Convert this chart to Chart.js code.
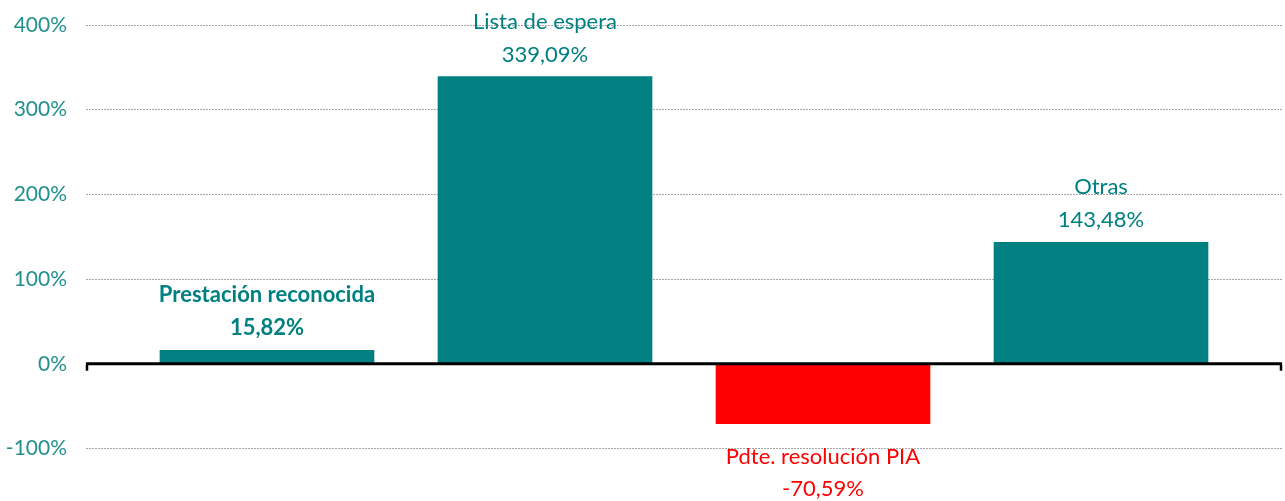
<!DOCTYPE html>
<html>
<head>
<meta charset="utf-8">
<script src="https://cdn.jsdelivr.net/npm/chart.js@4"></script>
<style>
  html, body { margin: 0; padding: 0; background: #fff; overflow: hidden; }
  canvas { display: block; }
</style>
</head>
<body>
<canvas id="myChart" width="1285" height="501"></canvas>
<script>
// data
var categories = ["Prestación reconocida", "Lista de espera", "Pdte. resolución PIA", "Otras"];
var values = [15.82, 339.09, -70.59, 143.48];
var yTicks = [400, 300, 200, 100, 0, -100];

var teal = '#008080';
var red = '#ff0000';

function fmt(v){
    return v.toFixed(2).replace('.', ',') + '%';
}

// zero line with the little end ticks
var zeroLine = {
    id: 'zeroLine',
    afterDatasetsDraw: function(chart){
        var c = chart.ctx, a = chart.chartArea;
        var y0 = chart.scales.y.getPixelForValue(0);
        c.save();
        c.strokeStyle = '#000';
        c.lineWidth = 3;
        c.beginPath();
        c.moveTo(a.left, y0);
        c.lineTo(a.right, y0);
        c.stroke();
        c.lineWidth = 2.5;
        c.beginPath();
        c.moveTo(a.left + 1, y0);
        c.lineTo(a.left + 1, y0 + 7);
        c.moveTo(a.right - 1, y0);
        c.lineTo(a.right - 1, y0 + 7);
        c.stroke();
        c.restore();
    }
};

var barLabels = {
    id: 'barLabels',
    afterDatasetsDraw: function(chart){
        var c = chart.ctx;
        var meta = chart.getDatasetMeta(0);
        c.save();
        c.textAlign = 'center';
        c.textBaseline = 'middle';
        meta.data.forEach(function(bar, i){
            var v = values[i];
            var weight = i === 0 ? 'bold ' : '';
            c.font = weight + '22px Lato, "Open Sans", sans-serif';
            if (v >= 0) {
                c.fillStyle = teal;
                c.fillText(categories[i], bar.x, bar.y - 55);
                c.fillText(fmt(v), bar.x, bar.y - 22);
            } else {
                c.fillStyle = red;
                c.fillText(categories[i], bar.x, bar.y + 33);
                c.fillText(fmt(v), bar.x, bar.y + 65);
            }
        });
        c.restore();
    }
};

const ctx = document.getElementById('myChart');

new Chart(ctx, {
    type: 'bar',
    data: {
        datasets: [{
            data: values.map(function(v, i){ return {x: i, y: v}; }),
            backgroundColor: values.map(function(v){ return v >= 0 ? teal : red; }),
            barThickness: 214,
            borderWidth: 0
        }]
    },
    options: {
        responsive: false,
        animation: false,
        layout: {
            padding: { top: 25, right: 3, bottom: 0, left: 0 }
        },
        plugins: {
            legend: { display: false },
            tooltip: { enabled: false }
        },
        scales: {
            x: {
                type: 'linear',
                offset: false,
                min: -0.651,
                max: 3.651,
                display: false
            },
            y: {
                min: -162,
                max: 400,
                afterFit: function(scale){
                    scale.width = 86;
                    scale.paddingTop = 0;
                    scale.paddingBottom = 0;
                },
                afterBuildTicks: function(scale){
                    scale.ticks = yTicks.map(function(t){ return {value: t}; });
                },
                border: { display: false, dash: [2, 1] },
                grid: {
                    drawTicks: false,
                    color: function(c){ return c.tick && c.tick.value === 0 ? 'rgba(0,0,0,0)' : '#a6a6a6'; },
                    lineWidth: 1
                },
                ticks: {
                    padding: 19,
                    color: '#22908f',
                    font: { family: 'Lato, "Open Sans", sans-serif', size: 21 },
                    callback: function(v){ return v + '%'; }
                }
            }
        }
    },
    plugins: [zeroLine, barLabels]
});
</script>
</body>
</html>
